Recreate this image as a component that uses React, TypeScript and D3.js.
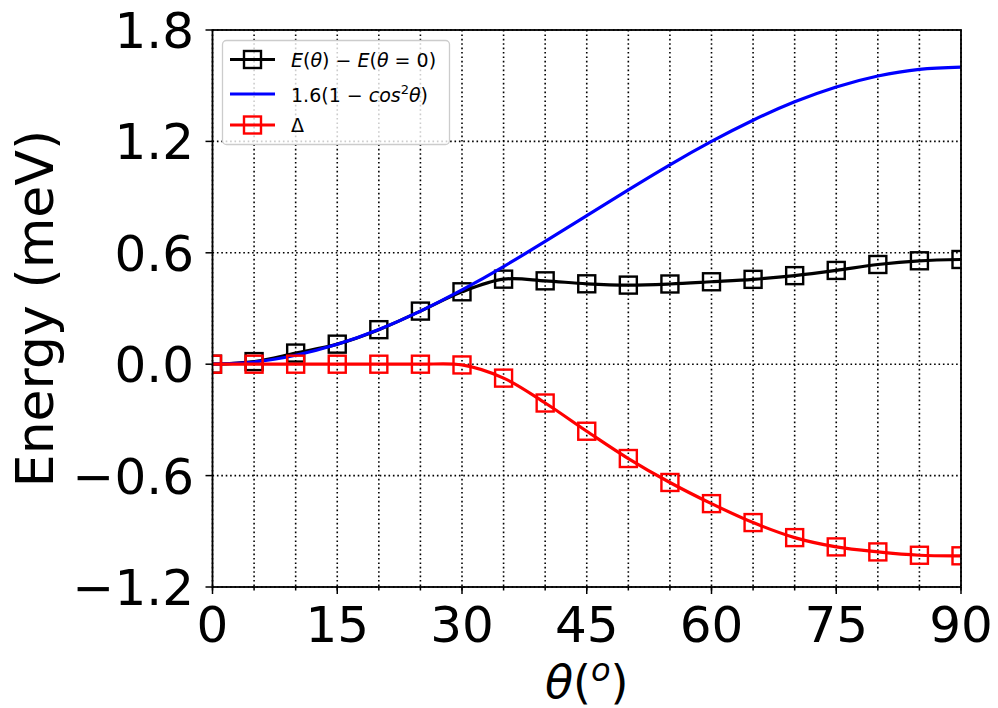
import React from "react";
import * as d3 from "d3";

const angles = [0, 5, 10, 15, 20, 25, 30, 35, 40, 45, 50, 55, 60, 65, 70, 75, 80, 85, 90];
const energyDiff = [0, 0.014, 0.06, 0.108, 0.186, 0.286, 0.39, 0.458, 0.449, 0.433, 0.426, 0.432, 0.444, 0.457, 0.477, 0.505, 0.537, 0.557, 0.564];
const anisoFit = [0, 0.012, 0.048, 0.107, 0.187, 0.286, 0.4, 0.526, 0.661, 0.8, 0.939, 1.074, 1.2, 1.314, 1.413, 1.493, 1.552, 1.588, 1.6];
const delta = [0, 0, 0, 0, 0, 0, -0.004, -0.075, -0.209, -0.361, -0.508, -0.637, -0.751, -0.853, -0.934, -0.984, -1.011, -1.029, -1.032];

const xTicks = [0, 15, 30, 45, 60, 75, 90];
const xMinor = [0, 5, 10, 15, 20, 25, 30, 35, 40, 45, 50, 55, 60, 65, 70, 75, 80, 85, 90];
const yTicks = [-1.2, -0.6, 0.0, 0.6, 1.2, 1.8];
const yTickLabels = ["\u22121.2", "\u22120.6", "0.0", "0.6", "1.2", "1.8"];

const W = 998, H = 708;
const L = 212.5, R = 961, T = 30, B = 587;
const FONT = "'DejaVu Sans', sans-serif";

export default function App() {
  const x = d3.scaleLinear().domain([0, 90]).range([L, R]);
  const y = d3.scaleLinear().domain([-1.2, 1.8]).range([B, T]);

  const pts = (vals: number[]) => angles.map((a, i) => [a, vals[i]] as [number, number]);
  const smooth = d3.line<[number, number]>().x(d => x(d[0])).y(d => y(d[1])).curve(d3.curveCatmullRom.alpha(0.5));
  const natural = d3.line<[number, number]>().x(d => x(d[0])).y(d => y(d[1])).curve(d3.curveNatural);

  const ms = 17;
  const square = (cx: number, cy: number, color: string, key: string | number) => (
    <rect key={key} x={cx - ms / 2} y={cy - ms / 2} width={ms} height={ms} fill="none" stroke={color} strokeWidth={2.4} />
  );

  return (
    <svg width={W} height={H} style={{ position: "absolute", left: 0, top: 0, background: "#fff" }} fontFamily={FONT}>
      <defs>
        <clipPath id="plotclip">
          <rect x={L} y={T} width={R - L} height={B - T} />
        </clipPath>
      </defs>
      {/* grid */}
      <g stroke="#000" strokeWidth={1.6} strokeDasharray="1.6,2.8">
        {xMinor.map(v => (
          <line key={"gx" + v} x1={x(v)} x2={x(v)} y1={T} y2={B} />
        ))}
        {yTicks.map(v => (
          <line key={"gy" + v} x1={L} x2={R} y1={y(v)} y2={y(v)} />
        ))}
      </g>
      {/* data */}
      <g clipPath="url(#plotclip)">
        <path d={smooth(pts(energyDiff)) || ""} fill="none" stroke="#000" strokeWidth={3.2} />
        {angles.map((a, i) => square(x(a), y(energyDiff[i]), "#000", "b" + i))}
        <path d={natural(pts(anisoFit)) || ""} fill="none" stroke="#0000ff" strokeWidth={3.2} />
        <path d={smooth(pts(delta)) || ""} fill="none" stroke="#ff0000" strokeWidth={3.2} />
        {angles.map((a, i) => square(x(a), y(delta[i]), "#ff0000", "r" + i))}
      </g>
      {/* spines */}
      <rect x={L} y={T} width={R - L} height={B - T} fill="none" stroke="#000" strokeWidth={1.8} />
      {/* ticks */}
      <g stroke="#000" strokeWidth={1.5}>
        {xMinor.map(v => (
          <line key={"mx" + v} x1={x(v)} x2={x(v)} y1={B} y2={B + 3.5} />
        ))}
        {xTicks.map(v => (
          <line key={"tx" + v} x1={x(v)} x2={x(v)} y1={B} y2={B + 7} />
        ))}
        {yTicks.map(v => (
          <line key={"ty" + v} x1={L - 7} x2={L} y1={y(v)} y2={y(v)} />
        ))}
      </g>
      <g fontSize={50} fill="#000">
        {xTicks.map(v => (
          <text key={"lx" + v} x={x(v)} y={642} textAnchor="middle">{v}</text>
        ))}
        {yTicks.map((v, i) => (
          <text key={"ly" + v} x={194} y={y(v)} dy="0.36em" textAnchor="end">{yTickLabels[i]}</text>
        ))}
      </g>
      {/* axis labels */}
      <text x={(L + R) / 2} y={698} textAnchor="middle" fontSize={46} fill="#000">
        <tspan fontStyle="italic">θ</tspan>
        <tspan>(</tspan>
        <tspan fontStyle="italic" fontSize={32} dy={-17}>o</tspan>
        <tspan dy={17}>)</tspan>
      </text>
      <text transform={`translate(53,${(T + B) / 2}) rotate(-90)`} textAnchor="middle" fontSize={52} fill="#000">
        Energy (meV)
      </text>
      {/* legend */}
      <g>
        <rect x={222.5} y={40.5} width={227} height={104} rx={4} fill="#fff" fillOpacity={0.8} stroke="#cccccc" strokeWidth={1.3} />
        <line x1={230} x2={275} y1={59.5} y2={59.5} stroke="#000" strokeWidth={3.2} />
        {square(252.5, 59.5, "#000", "lg1")}
        <line x1={230} x2={275} y1={94} y2={94} stroke="#0000ff" strokeWidth={3.2} />
        <line x1={230} x2={275} y1={125} y2={125} stroke="#ff0000" strokeWidth={3.2} />
        {square(252.5, 125, "#ff0000", "lg3")}
        <g fontSize={19} fill="#000">
          <text x={291} y={66.5}>
            <tspan fontStyle="italic">E</tspan>(<tspan fontStyle="italic">θ</tspan>) − <tspan fontStyle="italic">E</tspan>(<tspan fontStyle="italic">θ</tspan> = 0)
          </text>
          <text x={291} y={101.5}>
            1.6(1 − <tspan fontStyle="italic">cos</tspan><tspan fontSize={13} dy={-8}>2</tspan><tspan fontStyle="italic" dy={8}>θ</tspan>)
          </text>
          <text x={291} y={132}>Δ</text>
        </g>
      </g>
    </svg>
  );
}
